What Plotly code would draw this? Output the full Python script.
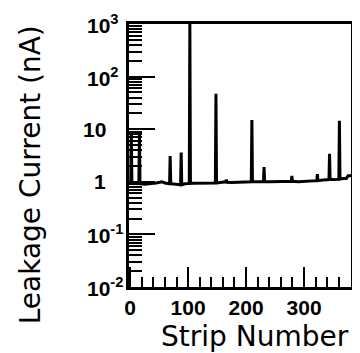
import math
import plotly.graph_objects as go

# Strip number vs leakage current (nA)
strips = [0, 1, 2, 3, 8, 14, 15, 16, 17, 25, 35, 45, 55, 60, 68, 69, 70, 78, 86, 87, 88, 89,
          95, 102, 103, 104, 110, 120, 130, 140, 147, 148, 149, 155, 165, 166, 167, 175, 185,
          195, 209, 210, 211, 217, 230, 231, 232, 242, 255, 270, 278, 279, 280, 290, 300, 310,
          322, 323, 324, 333, 343, 344, 345, 352, 360, 361, 362, 367, 373, 376, 381]
current = [1.0, 1.0, 9.0, 0.95, 0.93, 0.92, 0.92, 8.0, 0.92, 0.9, 0.92, 0.95, 1.0, 0.95, 0.92, 3.1, 0.92, 0.9, 0.88, 0.88, 3.6, 0.88,
           0.92, 0.93, 1000, 0.93, 0.94, 0.95, 0.93, 0.95, 0.95, 47, 0.95, 0.97, 1.0, 1.1, 0.98, 0.97, 0.98,
           0.98, 1.0, 15, 1.0, 1.0, 1.0, 1.9, 1.0, 1.0, 1.0, 1.02, 1.02, 1.3, 1.02, 1.0, 1.02, 1.05,
           1.05, 1.4, 1.05, 1.08, 1.1, 3.4, 1.1, 1.1, 1.12, 14.5, 1.12, 1.15, 1.15, 1.3, 1.3]

xticks = [0, 100, 200, 300]
ytick_vals = [1000, 100, 10, 1, 0.1, 0.01]
ytick_text = ["10<sup>3</sup>", "10<sup>2</sup>", "10", "1", "10<sup>-1</sup>", "10<sup>-2</sup>"]

# page body has an 8px margin, so the figure is drawn 8px right/down
W, H = 352, 345
L, R, T, B = 121, 6, 16, 66
# plot area in screen pixels
SX0, SX1, SY0, SY1 = 129, 354, 24, 287

def sx(px):
    return (px - SX0) / (SX1 - SX0)

def sy(py):
    return (SY1 - py) / (SY1 - SY0)

tfont = "Liberation Sans, Arial, sans-serif"
title_font = "DejaVu Sans, sans-serif"

fig = go.Figure()
fig.add_trace(go.Scatter(x=strips, y=current, mode="lines",
                         line=dict(color="black", width=3), showlegend=False))

fig.update_layout(
    width=W, height=H,
    margin=dict(l=L, r=R, t=T, b=B),
    paper_bgcolor="white", plot_bgcolor="white",
    font=dict(family=tfont, color="black"),
)
fig.update_xaxes(
    range=[-2, 381], showgrid=False, zeroline=False,
    showline=True, linecolor="black", linewidth=2.5, mirror=True,
    tickmode="array", tickvals=xticks, ticktext=[str(v) for v in xticks],
    ticks="inside", ticklen=20, tickwidth=1.5, tickcolor="black",
    tickfont=dict(size=21, family=tfont, weight="bold"),
    minor=dict(dtick=20, tick0=0, ticks="inside", ticklen=10, tickwidth=1.5, tickcolor="black", showgrid=False),
)
fig.update_yaxes(
    type="log", range=[-2, 3], showgrid=False, zeroline=False,
    showline=True, linecolor="black", linewidth=2.5, mirror=True,
    tickmode="array", tickvals=ytick_vals, showticklabels=False,
    ticks="inside", ticklen=26, tickwidth=1.5, tickcolor="black",
    minor=dict(dtick="D1", ticks="inside", ticklen=13, tickwidth=1.5, tickcolor="black", showgrid=False),
)

# y tick labels (bases right-aligned, superscripts hanging to the right)
for v, t in zip(ytick_vals, ytick_text):
    if "<sup>" in t:
        fig.add_annotation(x=sx(84), xref="paper", y=math.log10(v), yref="y",
                           text=t, showarrow=False, xanchor="left", yanchor="middle",
                           font=dict(size=21, family=tfont, weight="bold"))
    else:
        fig.add_annotation(x=sx(108), xref="paper", y=math.log10(v), yref="y",
                           text=t, showarrow=False, xanchor="right", yanchor="middle",
                           font=dict(size=21, family=tfont, weight="bold"))

fig.add_annotation(x=sx(29), xref="paper", y=sy(175), yref="paper",
                   text="Leakage Current (nA)", textangle=-90, showarrow=False,
                   xanchor="center", yanchor="middle", font=dict(size=28, family=title_font))
fig.add_annotation(x=sx(257), xref="paper", y=sy(336), yref="paper",
                   text="Strip Number", showarrow=False,
                   xanchor="center", yanchor="middle", font=dict(size=28, family=title_font))

fig.write_html("out.html")
